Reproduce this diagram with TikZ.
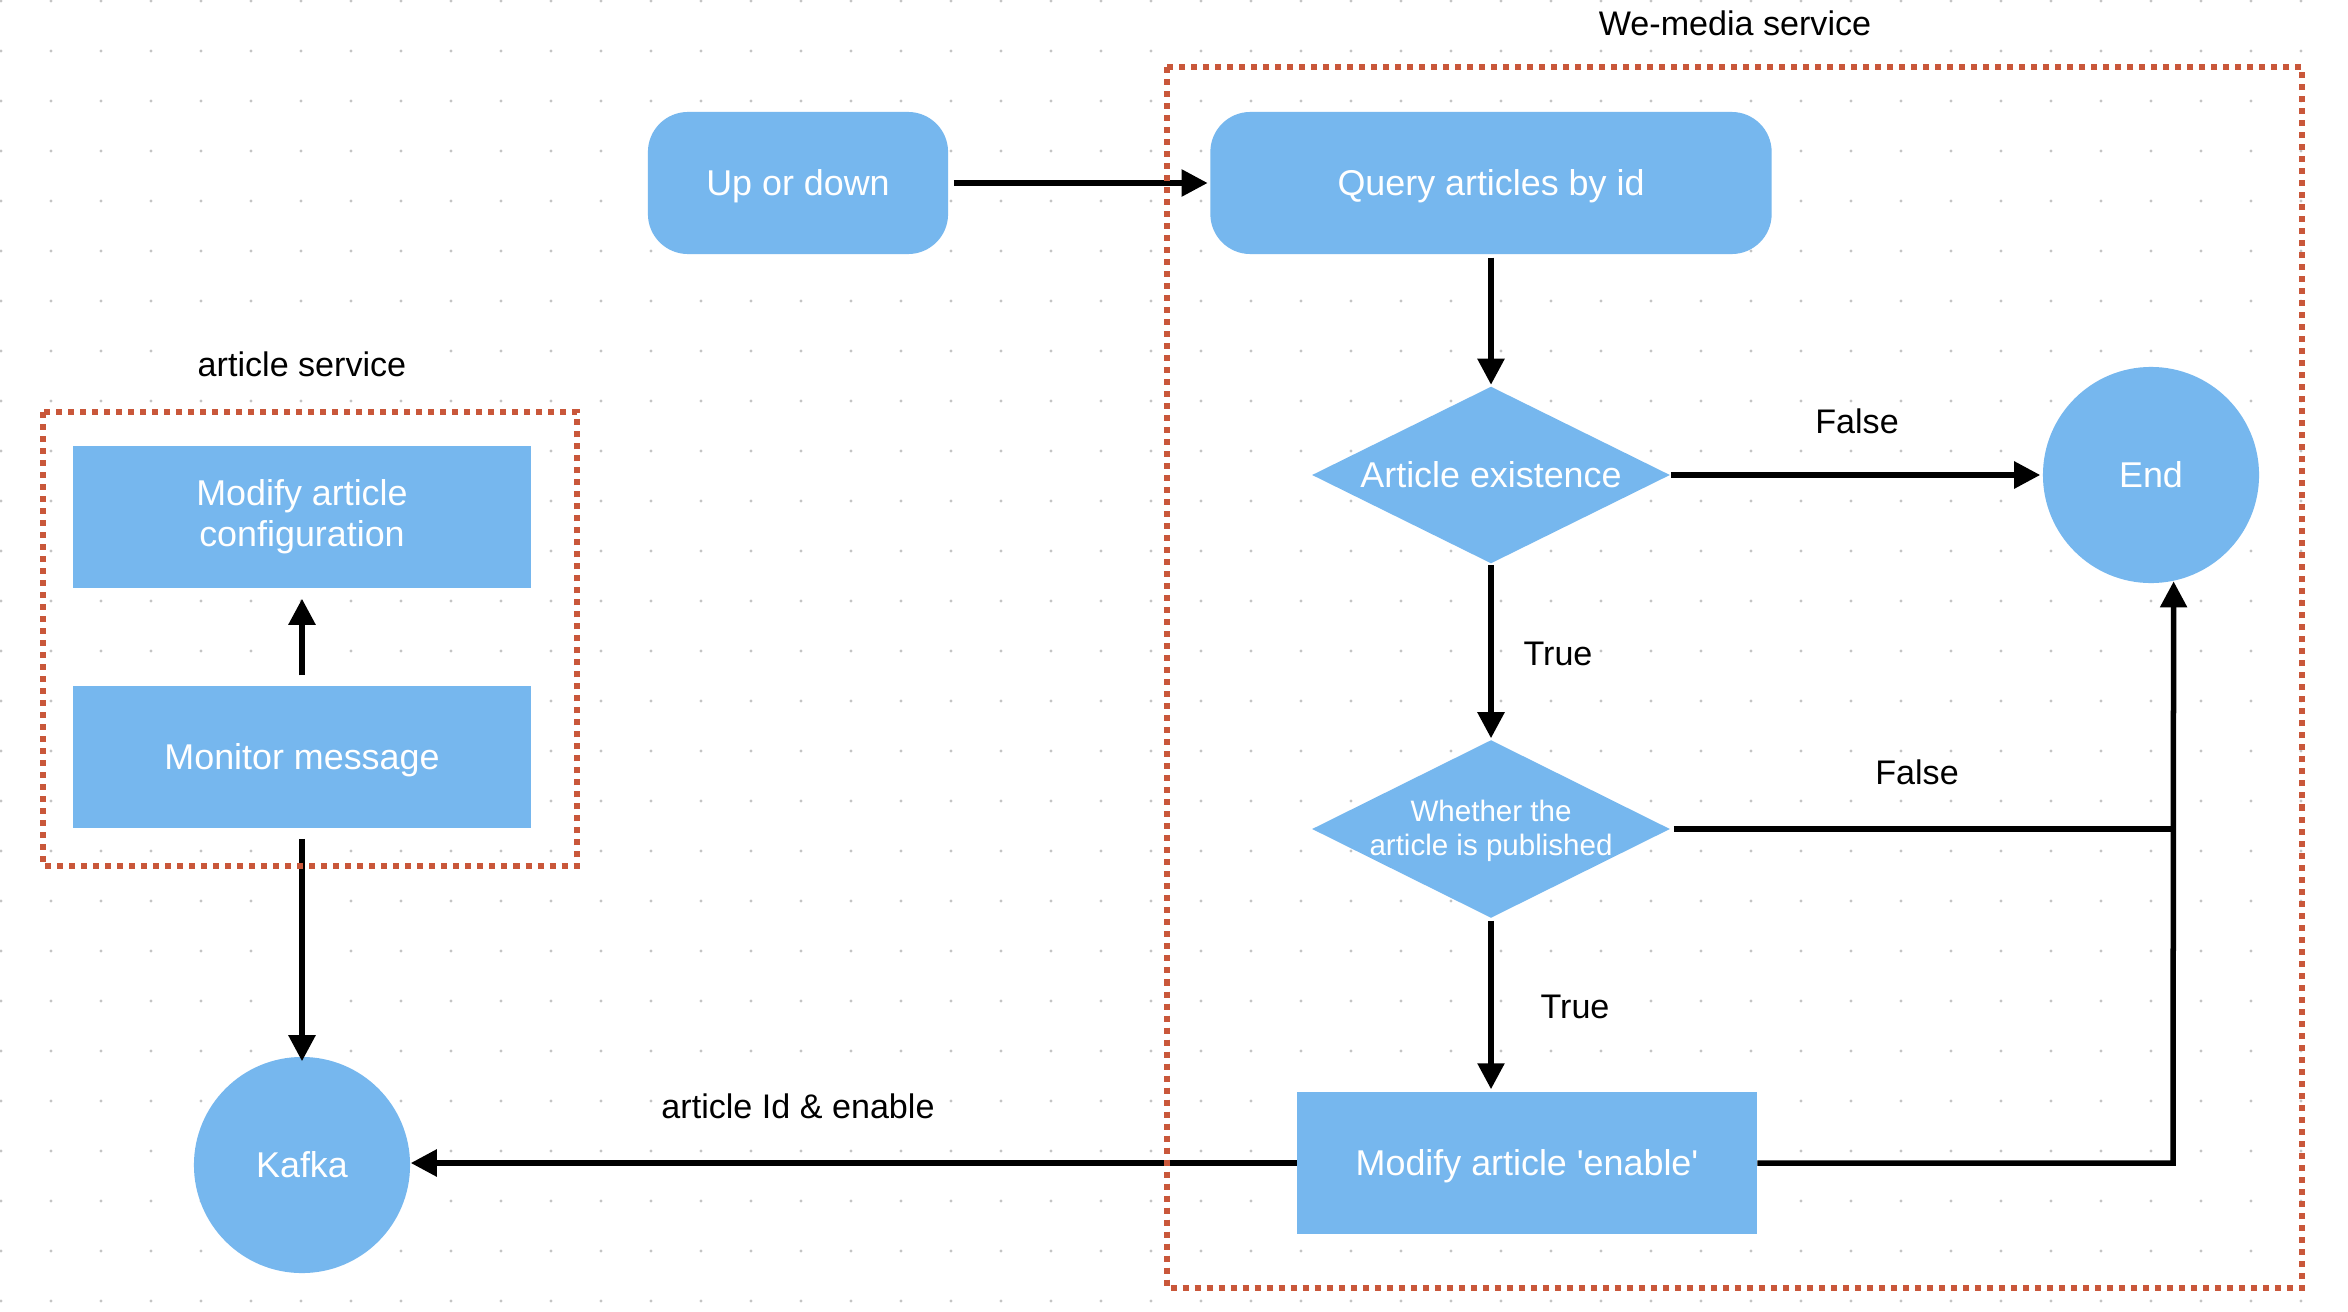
\documentclass[tikz,border=0pt]{standalone}
\usepackage{fontspec}
\setmainfont{Liberation Sans}[Ligatures=TeXOff]
\usetikzlibrary{shapes.geometric,arrows.meta}
\definecolor{boxblue}{RGB}{118,183,238}
\definecolor{framered}{RGB}{201,87,58}
\definecolor{dotgray}{RGB}{196,196,196}
\begin{document}
\begin{tikzpicture}[x=0.01cm,y=-0.01cm,
  boxtext/.style={text=white,font=\fontsize{10.2pt}{11.7pt}\selectfont,align=center},
  capc/.style={text height=7.3pt,text depth=0pt},
  rbox/.style={boxtext,capc,fill=boxblue,rounded corners=0.4cm,inner sep=0pt},
  sbox/.style={boxtext,fill=boxblue,inner sep=0pt,minimum width=4.58cm,minimum height=1.42cm},
  circ/.style={boxtext,capc,fill=boxblue,circle,inner sep=0pt,minimum size=2.16cm},
  dia/.style={fill=boxblue,diamond,inner sep=0pt,minimum width=3.58cm,minimum height=1.77cm},
  lbl/.style={fill=white,inner sep=1pt,text=black,font=\fontsize{9.7pt}{11pt}\selectfont},
  arr/.style={line width=0.055cm,-{Triangle[length=0.26cm,width=0.26cm]}},
  ln/.style={line width=0.055cm},
  frame/.style={draw=framered,line width=0.06cm,dash pattern=on 0.06cm off 0.06cm}]
\useasboundingbox (0,0) rectangle (2348,1312);
\fill[white] (0,0) rectangle (2348,1312);
% dot grid
\foreach \i in {0,...,46}{
  \foreach \j in {0,...,26}{
    \fill[dotgray] (1+50*\i,1+50*\j) circle[radius=0.017cm];
  }
}
% nodes
\node[rbox,minimum width=3cm,minimum height=1.42cm] (upd) at (798,183) {Up or down};
\node[rbox,minimum width=5.61cm,minimum height=1.42cm] (query) at (1491,183) {Query articles by id};
\node[dia] (d1) at (1491,475) {};
\node[boxtext,capc] (d1t) at (d1) {Article existence};
\node[circ] (endc) at (2151,475) {End};
\node[dia,minimum height=1.78cm] (d2) at (1491,829) {};
\node[text=white,font=\fontsize{8.4pt}{9.7pt}\selectfont,align=center] (d2t) at ([yshift=-0.02cm]d2.center) {Whether the\\article is published};
\node[sbox,capc,minimum width=4.59cm] (enable) at (1527,1163) {Modify article 'enable'};
\node[sbox] (cfg) at (302,517) {Modify article\\configuration};
\node[sbox,capc] (mon) at (302,757) {Monitor message};
\node[circ] (kafka) at (302,1165) {Kafka};
\coordinate (jx) at (2173,1163);
% connectors
\draw[arr,shorten <=0.05cm,shorten >=0.02cm] (upd.east) -- (query.west);
\draw[arr,shorten <=0.03cm,shorten >=0.01cm] (query.south) -- (d1.north);
\draw[arr,shorten >=0.02cm] (d1.east) -- (endc.west);
\draw[arr,shorten <=0.01cm,shorten >=0.01cm] (d1.south) -- (d2.north);
\draw[arr,shorten <=0.02cm,shorten >=0.02cm] (d2.south) -- (d2.south |- enable.north);
\draw[ln,shorten <=0.03cm] (d2.east) -- (jx |- d2.east);
\draw[arr] (enable.east) -- (jx) -- (endc.-78);
\draw[arr] (enable.west) -- (enable.west -| kafka.east);
\draw[arr,shorten <=0.1cm,shorten >=0.1cm] (mon.north) -- (cfg.south);
\draw[arr,shorten <=0.1cm,shorten >=-0.05cm] (mon.south) -- (kafka.north);
% frames
\draw[frame] (43,412) rectangle (577,866);
\draw[frame] (1167,67) rectangle (2302,1288);
% labels
\node[lbl] (lwm) at (1735,23) {We-media service};
\node[lbl] (las) at (302,364) {article service};
\node[lbl] (lf1) at (1857,421) {False};
\node[lbl] (lt1) at (1558,654) {True};
\node[lbl] (lf2) at (1917,772) {False};
\node[lbl] (lt2) at (1575,1007) {True};
\node[lbl] (lid) at (798,1106) {article Id \& enable};
\end{tikzpicture}
\end{document}
